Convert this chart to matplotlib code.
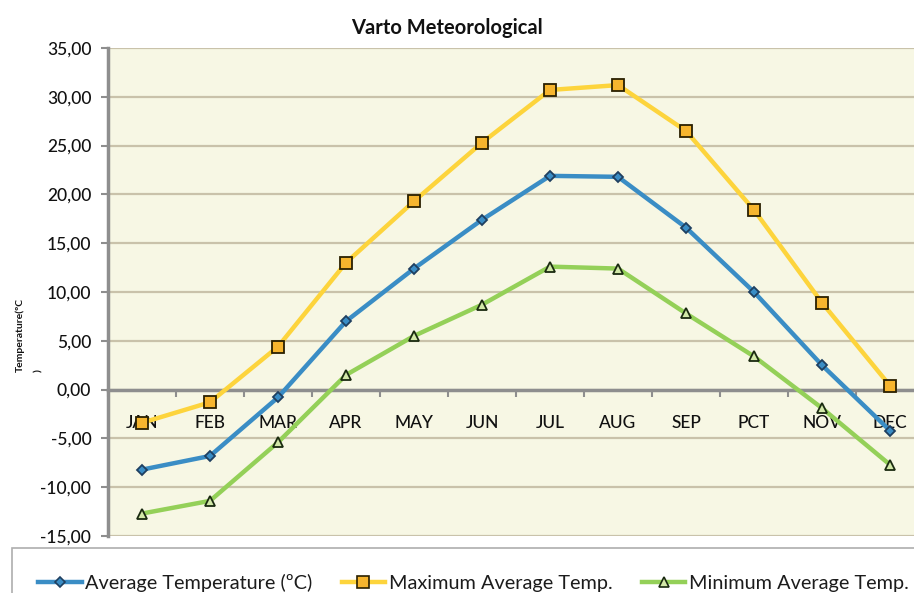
import matplotlib
matplotlib.use("Agg")
import matplotlib.pyplot as plt
import numpy as np
from matplotlib.lines import Line2D
from matplotlib.ticker import FixedLocator, FuncFormatter

plt.rcParams['font.family'] = ['Lato', 'DejaVu Sans']

months = ["JAN", "FEB", "MAR", "APR", "MAY", "JUN", "JUL", "AUG", "SEP", "PCT", "NOV", "DEC"]
avg_temp = [-8.2, -6.8, -0.8, 7.0, 12.4, 17.4, 21.9, 21.8, 16.6, 10.0, 2.5, -4.2]
max_temp = [-3.4, -1.3, 4.4, 13.0, 19.3, 25.3, 30.7, 31.2, 26.5, 18.4, 8.9, 0.4]
min_temp = [-12.7, -11.4, -5.4, 1.5, 5.5, 8.7, 12.6, 12.4, 7.8, 3.4, -1.9, -7.7]
series_names = ["Average Temperature (ºC)", "Maximum Average Temp.", "Minimum Average Temp."]
yticks = [-15, -10, -5, 0, 5, 10, 15, 20, 25, 30, 35]

W, H = 914, 593
fig = plt.figure(figsize=(W / 100, H / 100), dpi=100)
fig.patch.set_facecolor("white")
ax = fig.add_axes([108 / W, 1 - 536 / H, (924 - 108) / W, (536 - 48) / H])
ax.set_facecolor("#f7f7e4")

x = np.arange(len(months))
ax.set_xlim(-0.5, len(months) - 0.5)
ax.set_ylim(-15, 35)

for t in yticks:
    ax.axhline(t, color="#c9c2aa", lw=1.6, zorder=1)

styles = [
    dict(data=avg_temp, color="#3a8dc5", marker="D", mfc="#3a8dc5", ms=5, mec="#1f3f60"),
    dict(data=max_temp, color="#fdd43c", marker="s", mfc="#f6b52e", ms=8, mec="#2a2000"),
    dict(data=min_temp, color="#94d058", marker="^", mfc="#d2e8a8", ms=7, mec="#1a2a10"),
]

handles = []
for st, name in zip(styles, series_names):
    ax.plot(x, st["data"], color=st["color"], lw=3.2, marker=st["marker"], ms=st["ms"],
            mfc=st["mfc"], mec=st["mec"], mew=1.3, zorder=3, solid_joinstyle="round",
            solid_capstyle="round")
    handles.append(Line2D([0], [0], color=st["color"], lw=3.2, marker=st["marker"],
                          ms=st["ms"], mfc=st["mfc"], mec=st["mec"], mew=1.2))

for s in ["top", "right"]:
    ax.spines[s].set_visible(False)
ax.spines["left"].set_color("#8e8e8e")
ax.spines["left"].set_linewidth(2.5)
ax.spines["bottom"].set_position(("data", 0))
ax.spines["bottom"].set_color("#8e8e8e")
ax.spines["bottom"].set_linewidth(2.5)
ax.spines["bottom"].set_zorder(2)

ax.yaxis.set_major_locator(FixedLocator(yticks))
ax.yaxis.set_major_formatter(FuncFormatter(lambda v, p: f"{v:.2f}".replace(".", ",")))
ax.tick_params(axis="y", length=5, width=1.5, color="#8e8e8e", labelsize=12.5, pad=7,
               labelcolor="#111111")

ax.set_xticks(x)
ax.set_xticklabels(months)
ax.set_xticks(np.arange(-0.5, len(months) + 0.5, 1), minor=True)
ax.tick_params(axis="x", which="major", length=0, labelsize=12.5, pad=18, labelcolor="#111111")
ax.tick_params(axis="x", which="minor", length=5, width=1.5, color="#8e8e8e", direction="out")
for lbl in ax.get_xticklabels() + ax.get_yticklabels():
    lbl.set_fontweight("medium")

fig.text(447 / W, 1 - 28 / H, "Varto Meteorological", ha="center", va="center",
         fontsize=14.5, fontweight="bold", color="#111111")
fig.text(20 / W, 1 - 372 / H, "Temperature(ºC", rotation=90, ha="center", va="bottom",
         fontsize=7.5, fontweight="bold", color="#111111")
fig.text(39 / W, 1 - 372 / H, ")", rotation=90, ha="center", va="bottom",
         fontsize=7.5, fontweight="bold", color="#111111")

leg = fig.legend(handles, series_names, loc="upper left", bbox_to_anchor=(12 / W, 1 - 548 / H),
                 ncol=3, frameon=True, fontsize=14.3, handlelength=2.2, handletextpad=0.2,
                 columnspacing=1.45, borderpad=1.3, borderaxespad=0, fancybox=False)
leg.get_frame().set_edgecolor("#9a9a9a")
leg.get_frame().set_linewidth(1.2)
for t in leg.get_texts():
    t.set_color("#1c1c1c")

fig.savefig("out.png", dpi=100)
